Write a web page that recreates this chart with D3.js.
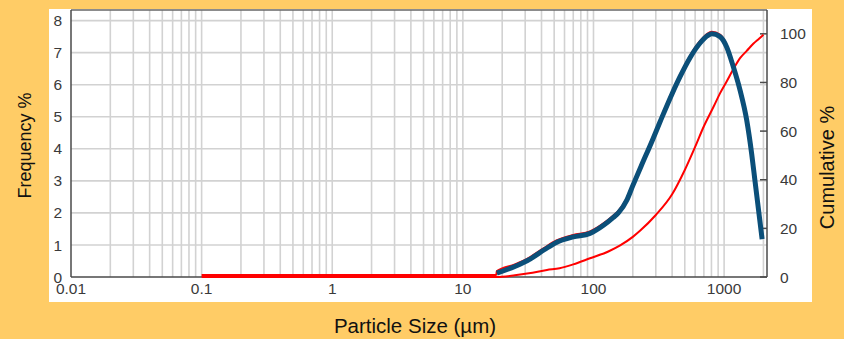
<!DOCTYPE html>
<html>
<head>
<meta charset="utf-8">
<script src="https://cdn.jsdelivr.net/npm/d3@7/dist/d3.min.js"></script>
<style>
  html, body { margin: 0; padding: 0; background: #FFCC66; }
  svg { display: block; }
  text { font-family: "Liberation Sans", Arial, sans-serif; }
</style>
</head>
<body>
<svg id="chart" width="844" height="339"></svg>
<script>
// Particle size distribution: frequency (%) and cumulative (%) vs size (µm)
const xTickValues = [0.01, 0.1, 1, 10, 100, 1000];
const xTickLabels = ["0.01", "0.1", "1", "10", "100", "1000"];
const freqTicks = [0, 1, 2, 3, 4, 5, 6, 7, 8];
const cumTicks = [0, 20, 40, 60, 80, 100];

// frequency curve (µm, %)
const freqSize = [0.1, 18, 18.2, 25, 32.7, 42, 52, 70, 94, 120, 142, 155, 180, 200, 234, 280, 324, 400, 460, 550, 655, 740, 805, 930, 1048, 1178, 1324, 1490, 1625, 1721, 1954];
const freqValue = [0, 0, 0.12, 0.33, 0.56, 0.85, 1.08, 1.25, 1.36, 1.62, 1.86, 2.0, 2.4, 2.85, 3.5, 4.23, 4.85, 5.72, 6.25, 6.85, 7.3, 7.52, 7.59, 7.5, 7.17, 6.55, 5.83, 4.89, 3.85, 3.02, 1.18];

// cumulative curve (µm, %)
const cumSize = [0.1, 18, 25, 32, 44, 55, 70, 94, 130, 160, 200, 227, 300, 400, 500, 600, 700, 830, 930, 1048, 1178, 1324, 1490, 1679, 1850, 2000];
const cumValue = [0, 0, 0.7, 1.5, 2.9, 3.6, 5.2, 7.7, 10.5, 13, 16.5, 19, 25.5, 34, 44, 53.5, 62, 70, 75.5, 80.5, 85.5, 90, 93, 96, 98, 99.6];

const svg = d3.select("#chart");
const W = 844, H = 339;
const plot = { left: 71, right: 767, top: 10, bottom: 277 };

svg.append("rect").attr("width", W).attr("height", H).attr("fill", "#FFCC66");
// white chart panel
svg.append("rect").attr("x", 49).attr("y", 9).attr("width", 763).attr("height", 293).attr("fill", "#ffffff");

const x = d3.scaleLog().domain([0.01, 2130]).range([plot.left, plot.right]);
const yF = d3.scaleLinear().domain([0, 8.33]).range([plot.bottom, plot.top]);
const yC = d3.scaleLinear().domain([0, 109.8]).range([plot.bottom, plot.top]);

// grid
const grid = svg.append("g").attr("stroke", "#d2d2d2").attr("stroke-width", 1.6);
const minor = [];
for (let e = -2; e <= 3; e++) for (let m = 1; m <= 9; m++) {
  const v = m * Math.pow(10, e);
  if (v > 0.01 && v <= 2130) minor.push(v);
}
grid.selectAll("line.v").data(minor).join("line")
  .attr("x1", d => x(d)).attr("x2", d => x(d))
  .attr("y1", plot.top).attr("y2", plot.bottom);
grid.selectAll("line.h").data(freqTicks.filter(d => d > 0)).join("line")
  .attr("x1", plot.left).attr("x2", plot.right)
  .attr("y1", d => yF(d)).attr("y2", d => yF(d));

// frame
const frame = svg.append("g").attr("stroke", "#4a4a4a").attr("stroke-width", 1.5).attr("fill", "none");
frame.append("line").attr("x1", plot.left).attr("x2", plot.right).attr("y1", plot.top).attr("y2", plot.top).attr("stroke", "#666");
frame.append("line").attr("x1", plot.left).attr("x2", plot.right).attr("y1", plot.bottom).attr("y2", plot.bottom);
frame.append("line").attr("x1", plot.left).attr("x2", plot.left).attr("y1", plot.top).attr("y2", plot.bottom);
frame.append("line").attr("x1", plot.right).attr("x2", plot.right).attr("y1", plot.top).attr("y2", plot.bottom);

// left axis labels
svg.append("g").selectAll("text").data(freqTicks).join("text")
  .attr("x", plot.left - 9).attr("y", d => yF(d)).attr("dy", "0.36em")
  .attr("text-anchor", "end").attr("font-size", 15.5).attr("fill", "#3a3a3a")
  .text(d => d);

// right axis ticks and labels
svg.append("g").selectAll("line").data(cumTicks).join("line")
  .attr("x1", plot.right - 7).attr("x2", plot.right)
  .attr("y1", d => yC(d)).attr("y2", d => yC(d))
  .attr("stroke", "#4a4a4a").attr("stroke-width", 1.5);
svg.append("g").selectAll("text").data(cumTicks).join("text")
  .attr("x", plot.right + 13).attr("y", d => yC(d)).attr("dy", "0.36em")
  .attr("text-anchor", "start").attr("font-size", 15.5).attr("fill", "#3a3a3a")
  .text(d => d);

// bottom axis labels
svg.append("g").selectAll("text").data(xTickValues).join("text")
  .attr("x", d => x(d)).attr("y", plot.bottom + 11).attr("dy", "0.36em")
  .attr("text-anchor", "middle").attr("font-size", 15.5).attr("fill", "#3a3a3a")
  .text((d, i) => xTickLabels[i]);

// axis titles
svg.append("text").attr("transform", `translate(31,${(plot.top + plot.bottom) / 2 + 2}) rotate(-90)`)
  .attr("text-anchor", "middle").attr("font-size", 18).attr("fill", "#111")
  .text("Frequency %");
svg.append("text").attr("transform", `translate(834,${(plot.top + plot.bottom) / 2 + 24}) rotate(-90)`)
  .attr("text-anchor", "middle").attr("font-size", 20).attr("fill", "#111")
  .text("Cumulative %");
svg.append("text").attr("x", 415).attr("y", 333)
  .attr("text-anchor", "middle").attr("font-size", 20.5).attr("fill", "#111")
  .text("Particle Size (µm)");

const freqData = freqSize.map((s, i) => [s, freqValue[i]]);
const cumData = cumSize.map((s, i) => [s, cumValue[i]]);

const lineF = d3.line().x(d => x(d[0])).y(d => yF(d[1])).curve(d3.curveMonotoneX);
const lineC = d3.line().x(d => x(d[0])).y(d => yC(d[1])).curve(d3.curveMonotoneX);

svg.append("path").datum(cumData).attr("d", lineC)
  .attr("fill", "none").attr("stroke", "#ff0000").attr("stroke-width", 2);
// thin red frequency trace, sitting just above the heavy trace
svg.append("path").datum(freqData).attr("d", lineF)
  .attr("transform", "translate(0,-2)")
  .attr("fill", "none").attr("stroke", "#ff0000").attr("stroke-width", 2);
// heavy frequency trace over the measured range
svg.append("path").datum(freqData.filter(d => d[0] >= 18.2)).attr("d", lineF)
  .attr("fill", "none").attr("stroke", "#0b4f79").attr("stroke-width", 5)
  .attr("stroke-linecap", "butt").attr("stroke-linejoin", "round");
</script>
</body>
</html>
